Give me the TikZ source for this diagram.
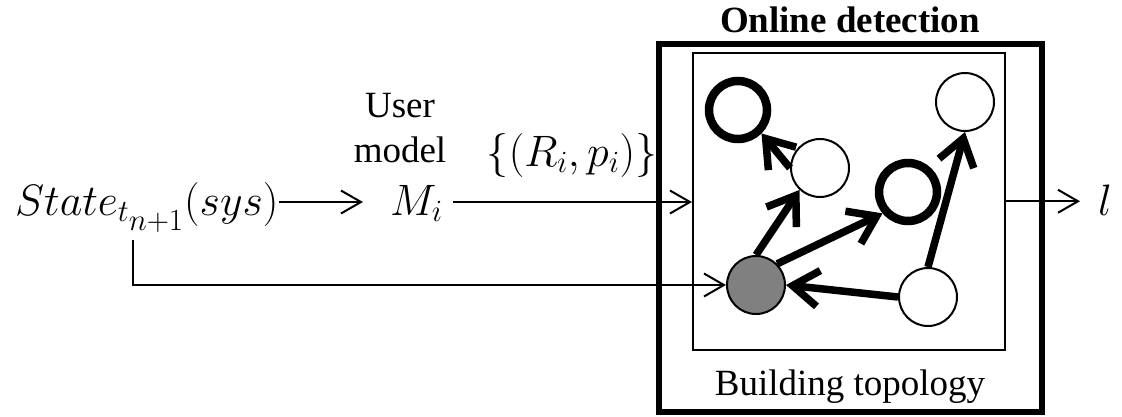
\RequirePackage{fix-cm}
\documentclass[tikz,border=0pt]{standalone}
\usepackage[no-math]{fontspec}
\setmainfont{Liberation Serif}
\usetikzlibrary{arrows.meta}
\definecolor{nodegray}{RGB}{128,128,128}
\tikzset{
  txt/.style={inner sep=0pt, font=\fontsize{37}{45}\selectfont},
  mathlbl/.style={inner sep=0pt, font=\fontsize{44}{52}\selectfont, text height=36pt, text depth=10pt},
  flow/.style={line width=2pt, -{Straight Barb[length=20pt,width=23pt]}},
  link/.style={line width=7.5pt, -{Straight Barb[length=26pt,width=36pt]}},
  vertex/.style={circle, draw, fill=white, minimum size=58pt, inner sep=0pt, line width=2pt},
  heavy/.style={vertex, line width=8.5pt},
  frame/.style={draw, inner sep=0pt},
}
\begin{document}
\begin{tikzpicture}[x=1pt, y=-1pt]
  \useasboundingbox (0,0) rectangle (1122,416);
  \fill[white] (0,0) rectangle (1122,416);

  % input state and user model
  \node[mathlbl, anchor=base west] (st) at (15,215) {$State_{t_{\scriptstyle n+1}}(sys)$};
  \coordinate (tap) at (133,240);
  \node[txt, anchor=base] (user) at (400,117) {User};
  \node[txt, anchor=base] (model) at (400,162) {model};
  \node[mathlbl, anchor=base west] (mi) at (390,215) {$M_i$};
  \node[mathlbl, anchor=base] (rp) at (572,166) {$\{(R_i,p_i)\}$};

  % online detection block
  \node[frame, line width=6pt, minimum width=383pt, minimum height=368.5pt] (online) at (850,227.75) {};
  \node[txt, font=\fontsize{37}{45}\selectfont\bfseries, anchor=base] (title) at (850,32) {Online detection};
  \node[frame, line width=2pt, minimum width=311.5pt, minimum height=296.5pt] (topo) at (848.75,201.25) {};
  \node[txt, anchor=base] (bt) at (850,395) {Building topology};

  % building graph
  \node[heavy] (A) at (738,110) {};
  \node[vertex] (B) at (965,102) {};
  \node[vertex] (C) at (820,168) {};
  \node[heavy] (D) at (908,192) {};
  \node[vertex, fill=nodegray] (E) at (756,285) {};
  \node[vertex] (F) at (928,297) {};

  \draw[link] (C.west) -- (A.315);
  \draw[link] (E.north) -- (C.227);
  \draw[link] (E.45) -- (D.220);
  \draw[link] (F.west) -- (E.east);
  \draw[link] (F.north) -- (B.south);

  % output label
  \node[mathlbl, anchor=base west] (out) at (1098,215) {$l$};

  % data flow
  \draw[flow, shorten >=27pt] (st.east) -- (mi.west);
  \draw[flow, shorten <=10pt] (mi.east) -- (mi.east -| topo.west);
  \draw[flow] (tap) |- (E);
  \draw[flow, shorten >=18pt] (topo.east) -- (topo.east -| out.west);
\end{tikzpicture}
\end{document}
